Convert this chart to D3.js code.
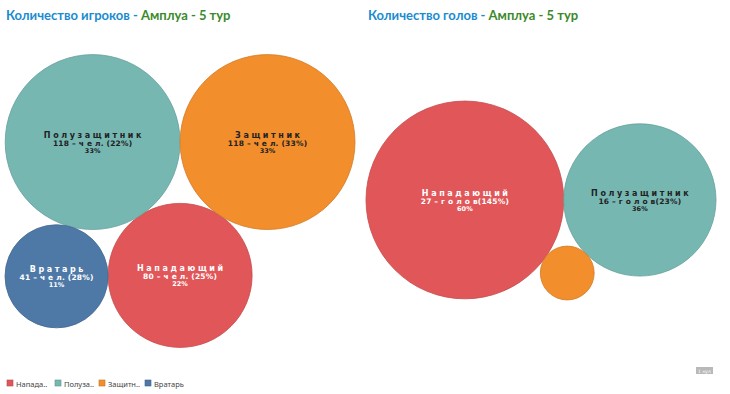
<!DOCTYPE html>
<html>
<head>
<meta charset="utf-8">
<script src="https://cdn.jsdelivr.net/npm/d3@7"></script>
<style>
  body { margin: 0; background: #fff; }
  svg { display: block; }
</style>
</head>
<body>
<svg id="chart" width="730" height="394"></svg>
<script>
// roles / colours (Tableau 10)
const roles = ['Нападающий', 'Полузащитник', 'Защитник', 'Вратарь'];
const roleColors = ['#e15759', '#76b7b2', '#f28e2b', '#4e79a7'];
const legendLabels = ['Напада..', 'Полуза..', 'Защитн..', 'Вратарь'];

// left: players per role (pack order)
const playerRoles = ['Нападающий', 'Полузащитник', 'Защитник', 'Вратарь'];
const playerCounts = [80, 118, 118, 41];
const playerRatio = ['25%', '22%', '33%', '28%'];

// right: goals per role (pack order)
const goalRoles = ['Нападающий', 'Полузащитник', 'Защитник'];
const goalCounts = [27, 16, 2];
const goalRatio = ['145%', '23%', ''];

const color = d3.scaleOrdinal(roles, roleColors);
const darkText = new Set(['Полузащитник', 'Защитник']);

const svg = d3.select('#chart');

function title(x, first) {
  const t = svg.append('text')
    .attr('x', x).attr('y', 20)
    .attr('font-family', 'Lato, sans-serif')
    .attr('font-weight', 700)
    .attr('font-size', 13);
  t.append('tspan').attr('fill', '#1a8bd0').text(first + ' - ');
  t.append('tspan').attr('fill', '#3b8a2a').text('Амплуа - 5 тур');
}

// pack circles by area, rotate so the [alignA -> alignB] pair is horizontal,
// then fit the pack into [x0, x1] around cy
function bubbles(names, values, ratios, unit, alignA, alignB, x0, x1, cy, labelled) {
  const total = d3.sum(values);
  const r = d3.scaleSqrt().domain([0, d3.max(values)]).range([0, 10]);
  const nodes = names.map((n, i) => ({ name: n, value: values[i], ratio: ratios[i], r: r(values[i]) }));
  d3.packSiblings(nodes);

  const a = nodes.find(d => d.name === alignA), b = nodes.find(d => d.name === alignB);
  const ang = -Math.atan2(b.y - a.y, b.x - a.x);
  nodes.forEach(d => {
    const x = d.x * Math.cos(ang) - d.y * Math.sin(ang);
    const y = d.x * Math.sin(ang) + d.y * Math.cos(ang);
    d.x = x; d.y = y;
  });

  const bx0 = d3.min(nodes, d => d.x - d.r), bx1 = d3.max(nodes, d => d.x + d.r);
  const by0 = d3.min(nodes, d => d.y - d.r), by1 = d3.max(nodes, d => d.y + d.r);
  const k = (x1 - x0) / (bx1 - bx0);
  const sx = d3.scaleLinear().domain([bx0, bx1]).range([x0, x1]);
  const sy = d3.scaleLinear().domain([(by0 + by1) / 2 - 1, (by0 + by1) / 2 + 1]).range([cy - k, cy + k]);

  const g = svg.append('g');
  const node = g.selectAll('g').data(nodes).enter().append('g')
    .attr('transform', d => `translate(${sx(d.x)},${sy(d.y)})`);

  node.append('circle')
    .attr('r', d => d.r * k)
    .attr('fill', d => color(d.name))
    .attr('stroke', d => d3.color(color(d.name)).darker(0.4))
    .attr('stroke-width', 0.8);

  const lab = node.filter(d => labelled.includes(d.name)).append('text')
    .attr('text-anchor', 'middle')
    .attr('font-family', 'DejaVu Sans, sans-serif')
    .attr('font-weight', 700)
    .attr('fill', d => darkText.has(d.name) ? '#222' : '#fff');

  lab.append('tspan').attr('x', 1.3).attr('y', -4)
    .attr('font-size', 8).attr('letter-spacing', 2.6)
    .text(d => d.name);
  lab.append('tspan').attr('x', 0).attr('y', 4)
    .attr('font-size', 7.5).attr('letter-spacing', 0.2)
    .text(d => `${d.value} – ${unit}${unit.startsWith('ч') ? ' ' : ''}(${d.ratio})`);
  lab.append('tspan').attr('x', 0).attr('y', 11)
    .attr('font-size', 6.5)
    .text(d => Math.round(d.value / total * 100) + '%');
}

title(6, 'Количество игроков');
title(368, 'Количество голов');

bubbles(playerRoles, playerCounts, playerRatio, 'ч е л.', 'Полузащитник', 'Защитник', 5, 355, 201, playerRoles);
bubbles(goalRoles, goalCounts, goalRatio, 'г о л о в', 'Нападающий', 'Полузащитник', 366, 716, 200.5, ['Нападающий', 'Полузащитник']);

// legend
const leg = svg.append('g').selectAll('g').data(roles).enter().append('g')
  .attr('transform', (d, i) => `translate(${[7, 55, 99, 145][i]},380)`);
leg.append('rect').attr('width', 6).attr('height', 6)
  .attr('fill', d => color(d)).attr('stroke', d => d3.color(color(d)).darker(0.6)).attr('stroke-width', 0.6);
leg.append('text').attr('x', 9).attr('y', 6.5)
  .attr('font-family', 'Noto Sans, sans-serif').attr('font-size', 7.5).attr('fill', '#444')
  .text((d, i) => legendLabels[i]);

// null indicator
svg.append('rect').attr('x', 696).attr('y', 367).attr('width', 17).attr('height', 7).attr('fill', '#b9b9b9');
svg.append('text').attr('x', 704.5).attr('y', 372.5).attr('text-anchor', 'middle')
  .attr('font-family', 'DejaVu Sans, sans-serif').attr('font-size', 4.5).attr('fill', '#fff').text('1 нул');
</script>
</body>
</html>
